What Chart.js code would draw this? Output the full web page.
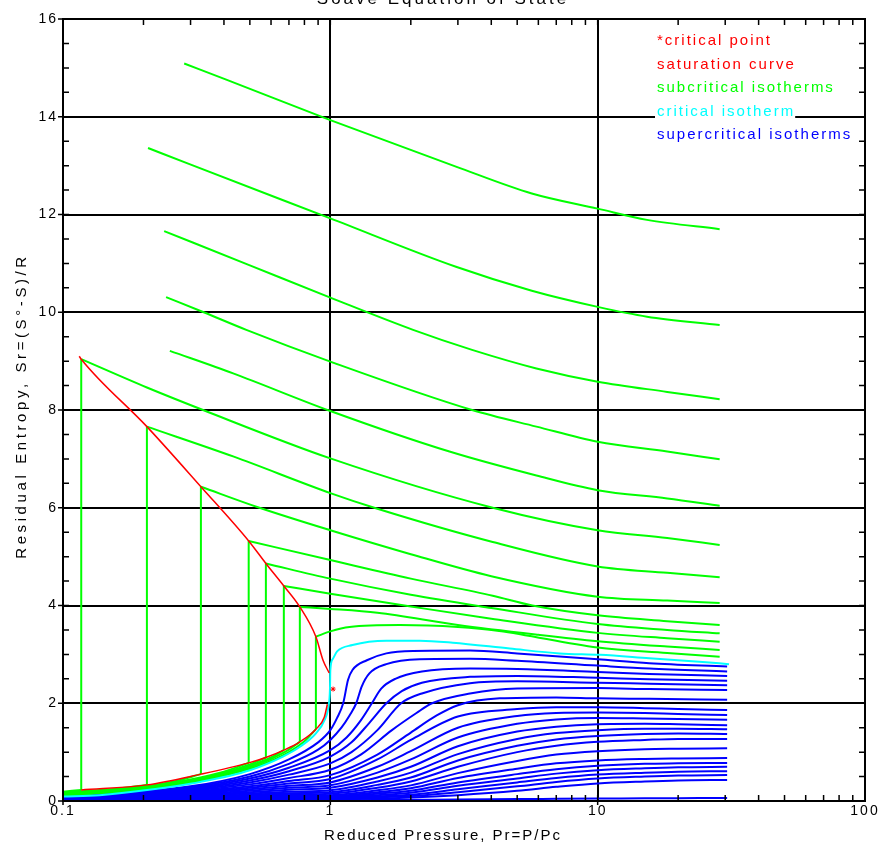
<!DOCTYPE html>
<html>
<head>
<meta charset="utf-8">
<title>Soave Equation of State</title>
<script src="https://cdn.jsdelivr.net/npm/chart.js@4.4.1/dist/chart.umd.min.js"></script>
<style>
  html, body { margin: 0; padding: 0; background: #ffffff; }
  canvas { display: block; }
</style>
</head>
<body>
<canvas id="chart" width="881" height="846"></canvas>
<script>
// Residual entropy isotherms of the Soave (SRK) equation of state.
// Every curve is a list of [reduced pressure Pr, residual entropy Sr] pairs.

const xTickValues = [0.1, 1, 10, 100];
const yTickStep = 2;
const yMinorStep = 0.5;

const legendLabels = ['*critical point', 'saturation curve', 'subcritical isotherms', 'critical isotherm', 'supercritical isotherms'];

// Saturation envelope (liquid and vapour sides) and the critical point
const saturationLiquid = [[0.115, 9.10], [0.117, 9.04], [0.206, 7.66], [0.328, 6.43], [0.495, 5.32], [0.574, 4.86], [0.670, 4.40], [0.769, 3.97], [0.883, 3.36], [0.939, 2.88], [0.99, 2.62]];
const saturationVapor = [[0.117, 0.225], [0.206, 0.33], [0.328, 0.55], [0.495, 0.78], [0.574, 0.89], [0.670, 1.04], [0.769, 1.21], [0.883, 1.47], [0.95, 1.72], [0.975, 1.98]];
const criticalPoint = [[1.024, 2.29]];

// Critical isotherm
const criticalIsotherm = [[0.1, 0.09], [0.137, 0.12], [0.21, 0.23], [0.326, 0.39], [0.5, 0.63], [0.665, 0.91], [0.77, 1.11], [0.885, 1.39], [0.95, 1.65], [0.985, 1.95], [0.997, 2.3], [1.0, 2.68], [1.02, 2.9], [1.06, 3.06], [1.21, 3.19], [1.62, 3.28], [2.16, 3.28], [2.87, 3.24], [4.69, 3.12], [7.2, 3.02], [10.2, 2.99], [15.6, 2.92], [24, 2.85], [31, 2.80]];

// Subcritical isotherms: liquid branches (coldest first)
const subLiquid01 = [[0.284, 15.09], [0.408, 14.76], [1, 13.93], [2.95, 12.98], [5.67, 12.43], [10, 12.12], [15.3, 11.89], [28.6, 11.70]];
const subLiquid02 = [[0.208, 13.36], [0.294, 13.04], [1, 11.92], [2.95, 10.93], [5.67, 10.44], [10, 10.11], [15.3, 9.91], [28.6, 9.74]];
const subLiquid03 = [[0.239, 11.66], [0.5, 10.96], [1, 10.30], [2.04, 9.64], [3.39, 9.23], [5.9, 8.85], [10, 8.58], [18.2, 8.37], [28.6, 8.22]];
const subLiquid04 = [[0.243, 10.31], [0.336, 10.0], [0.485, 9.64], [1, 8.99], [3.39, 8.0], [5.9, 7.66], [10, 7.35], [18.2, 7.15], [28.6, 6.99]];
const subLiquid05 = [[0.251, 9.21], [0.433, 8.75], [1, 7.98], [2.79, 7.15], [5.9, 6.66], [10, 6.36], [18.2, 6.19], [28.6, 6.04]];
const subLiquid06 = [[0.117, 9.04], [0.206, 8.46], [0.334, 8.0], [1, 7.01], [4.05, 6.0], [10, 5.54], [18.2, 5.38], [28.6, 5.24]];
const subLiquid07 = [[0.206, 7.66], [0.433, 7.05], [1, 6.30], [1.5, 5.98], [4.05, 5.3], [10, 4.8], [18.2, 4.67], [28.6, 4.58]];
const subLiquid08 = [[0.328, 6.43], [0.543, 6.0], [1, 5.54], [2, 5.05], [4, 4.6], [10, 4.18], [18.2, 4.1], [28.6, 4.05]];
const subLiquid09 = [[0.495, 5.32], [1, 4.93], [2, 4.55], [4.05, 4.2], [5.7, 4.0], [10, 3.8], [18.2, 3.68], [28.6, 3.60]];
const subLiquid10 = [[0.574, 4.86], [1, 4.55], [2, 4.22], [4, 3.95], [10, 3.62], [18.2, 3.5], [28.6, 3.43]];
const subLiquid11 = [[0.670, 4.40], [1, 4.24], [2, 3.98], [4, 3.73], [10, 3.44], [18.2, 3.33], [28.6, 3.26]];
const subLiquid12 = [[0.769, 3.97], [1, 3.93], [1.5, 3.85], [3, 3.6], [6, 3.4], [10, 3.27], [18.2, 3.16], [28.6, 3.09]];
const subLiquid13 = [[0.883, 3.36], [1.0, 3.47], [1.18, 3.56], [1.82, 3.60], [3, 3.56], [4.28, 3.48], [10, 3.14], [18.2, 3.03], [28.6, 2.95]];

// Subcritical isotherms: vapour branches up to the saturation pressure
const subVapor06 = [[0.1, 0.19], [0.117, 0.225]];
const subVapor07 = [[0.1, 0.175], [0.15, 0.24], [0.206, 0.33]];
const subVapor08 = [[0.1, 0.16], [0.15, 0.225], [0.2, 0.30], [0.26, 0.40], [0.328, 0.55]];
const subVapor09 = [[0.1, 0.15], [0.2, 0.285], [0.3, 0.44], [0.4, 0.6], [0.495, 0.78]];
const subVapor10 = [[0.1, 0.14], [0.2, 0.27], [0.3, 0.42], [0.4, 0.58], [0.5, 0.75], [0.574, 0.89]];
const subVapor11 = [[0.1, 0.13], [0.2, 0.26], [0.3, 0.40], [0.4, 0.56], [0.5, 0.72], [0.6, 0.89], [0.670, 1.04]];
const subVapor12 = [[0.1, 0.12], [0.2, 0.245], [0.3, 0.385], [0.4, 0.54], [0.5, 0.69], [0.6, 0.86], [0.7, 1.05], [0.769, 1.21]];
const subVapor13 = [[0.1, 0.11], [0.2, 0.23], [0.3, 0.37], [0.4, 0.52], [0.5, 0.66], [0.6, 0.82], [0.7, 1.0], [0.8, 1.22], [0.883, 1.47]];

// Supercritical isotherms just above the critical temperature
const super01 = [[0.1, 0.085], [0.3, 0.30], [0.5, 0.55], [0.7, 0.85], [0.9, 1.2], [1.0, 1.45], [1.06, 1.7], [1.117, 2.0], [1.165, 2.48], [1.21, 2.68], [1.37, 2.88], [1.62, 3.02], [2.04, 3.07], [3.33, 3.08], [5, 3.02], [10, 2.9], [15.6, 2.82], [30.5, 2.75]];
const super02 = [[0.1, 0.08], [0.3, 0.28], [0.5, 0.50], [0.7, 0.76], [0.9, 1.05], [1.0, 1.25], [1.1, 1.5], [1.18, 1.75], [1.25, 2.0], [1.31, 2.34], [1.40, 2.61], [1.62, 2.80], [2.16, 2.90], [3.33, 2.91], [5, 2.87], [10, 2.77], [15.6, 2.71], [30.5, 2.65]];
const super03 = [[0.1, 0.075], [0.3, 0.26], [0.5, 0.46], [0.7, 0.68], [1.0, 1.04], [1.15, 1.3], [1.3, 1.65], [1.43, 2.0], [1.55, 2.3], [1.75, 2.5], [2.2, 2.65], [3.33, 2.71], [5, 2.70], [10, 2.64], [15.6, 2.60], [30.5, 2.56]];
const super04 = [[0.1, 0.07], [0.3, 0.245], [0.5, 0.42], [0.7, 0.61], [1.0, 0.91], [1.2, 1.2], [1.4, 1.6], [1.62, 2.0], [1.85, 2.25], [2.2, 2.42], [3.33, 2.54], [5, 2.56], [10, 2.52], [15.6, 2.49], [30.5, 2.46]];
const super05 = [[0.1, 0.065], [0.3, 0.23], [0.5, 0.38], [0.7, 0.54], [1.0, 0.77], [1.2, 1.0], [1.5, 1.45], [1.84, 2.0], [2.2, 2.2], [3.33, 2.41], [5, 2.45], [10, 2.42], [15.6, 2.40], [30.5, 2.37]];
const super06 = [[0.1, 0.06], [0.3, 0.21], [0.5, 0.34], [0.7, 0.47], [1.0, 0.64], [1.3, 0.95], [1.7, 1.45], [2.1, 1.8], [2.4, 2.0], [3.33, 2.2], [5, 2.3], [10, 2.31], [15.6, 2.29], [30.5, 2.27]];
const super07 = [[0.1, 0.055], [0.3, 0.19], [0.5, 0.30], [0.7, 0.41], [1.0, 0.53], [1.5, 0.95], [2, 1.4], [2.5, 1.75], [3, 1.96], [4.3, 2.1], [7, 2.12], [10, 2.1], [15.6, 2.09], [30.5, 2.07]];

// Hotter supercritical isotherms, sampled on one common pressure list
const highTrPressures = [0.1, 0.3, 0.5, 0.7, 1, 1.5, 2, 3, 5, 7, 10, 15, 20, 30.5];
const super08 = [0.05, 0.17, 0.27, 0.36, 0.45, 0.85, 1.25, 1.73, 1.88, 1.92, 1.92, 1.90, 1.88, 1.86];
const super09 = [0.045, 0.155, 0.24, 0.31, 0.38, 0.70, 1.02, 1.50, 1.74, 1.80, 1.81, 1.80, 1.78, 1.76];
const super10 = [0.04, 0.14, 0.21, 0.27, 0.32, 0.58, 0.85, 1.30, 1.58, 1.67, 1.70, 1.69, 1.68, 1.66];
const super11 = [0.035, 0.125, 0.18, 0.23, 0.27, 0.48, 0.70, 1.12, 1.42, 1.52, 1.57, 1.58, 1.57, 1.55];
const super12 = [0.03, 0.11, 0.155, 0.19, 0.22, 0.40, 0.58, 0.96, 1.27, 1.39, 1.45, 1.48, 1.48, 1.47];
const super13 = [0.025, 0.095, 0.13, 0.16, 0.18, 0.33, 0.48, 0.83, 1.13, 1.26, 1.33, 1.37, 1.38, 1.37];
const super14 = [0.02, 0.08, 0.11, 0.135, 0.15, 0.27, 0.40, 0.70, 1.00, 1.13, 1.21, 1.25, 1.27, 1.27];
const super15 = [0.018, 0.07, 0.09, 0.11, 0.12, 0.22, 0.32, 0.57, 0.82, 0.95, 1.02, 1.06, 1.07, 1.08];
const super16 = [0.015, 0.06, 0.075, 0.09, 0.10, 0.18, 0.26, 0.47, 0.66, 0.77, 0.83, 0.86, 0.87, 0.88];
const super17 = [0.012, 0.05, 0.062, 0.075, 0.085, 0.15, 0.21, 0.38, 0.55, 0.65, 0.72, 0.76, 0.77, 0.78];
const super18 = [0.01, 0.04, 0.05, 0.06, 0.07, 0.12, 0.17, 0.31, 0.46, 0.56, 0.63, 0.67, 0.69, 0.70];
const super19 = [0.008, 0.03, 0.04, 0.048, 0.055, 0.095, 0.13, 0.24, 0.38, 0.47, 0.54, 0.58, 0.60, 0.61];
const super20 = [0.006, 0.025, 0.03, 0.036, 0.045, 0.075, 0.10, 0.18, 0.30, 0.39, 0.46, 0.50, 0.52, 0.53];
const super21 = [0.004, 0.015, 0.02, 0.024, 0.03, 0.05, 0.07, 0.12, 0.21, 0.29, 0.36, 0.40, 0.42, 0.43];
const super22 = [0.002, 0.008, 0.01, 0.012, 0.015, 0.02, 0.025, 0.03, 0.04, 0.045, 0.05, 0.055, 0.058, 0.06];

const RED = '#ff0000', GREEN = '#00ff00', CYAN = '#00ffff', BLUE = '#0000ff';
const FONT = '"Liberation Sans", Arial, sans-serif';

const toXY = pts => pts.map(([x, y]) => ({ x, y }));
const zipPressures = values => values.map((s, i) => [highTrPressures[i], s]);

function curve(points, color, width, order, smooth = true) {
  return {
    data: toXY(points),
    showLine: true,
    borderColor: color,
    backgroundColor: color,
    borderWidth: width,
    pointRadius: 0,
    fill: false,
    tension: smooth ? 0.4 : 0,
    cubicInterpolationMode: smooth ? 'monotone' : 'default',
    order
  };
}

const datasets = [];

// saturation envelope and critical point (on top)
datasets.push(curve(saturationLiquid, RED, 1.5, 0));
datasets.push(curve(saturationVapor, RED, 1.5, 0));
datasets.push({
  data: toXY(criticalPoint),
  showLine: false,
  pointStyle: 'star',
  pointRadius: 2.5,
  borderColor: RED,
  borderWidth: 1,
  order: 0
});

// critical isotherm
datasets.push(curve(criticalIsotherm, CYAN, 2, 1));

// subcritical isotherms: vapour branch, two-phase tie line, liquid branch
const subcritical = [
  [null, subLiquid01], [null, subLiquid02], [null, subLiquid03], [null, subLiquid04], [null, subLiquid05],
  [subVapor06, subLiquid06], [subVapor07, subLiquid07], [subVapor08, subLiquid08], [subVapor09, subLiquid09],
  [subVapor10, subLiquid10], [subVapor11, subLiquid11], [subVapor12, subLiquid12], [subVapor13, subLiquid13]
];
subcritical.forEach(([vapor, liquid]) => {
  datasets.push(curve(liquid, GREEN, 2, 2));
  if (vapor) {
    datasets.push(curve(vapor, GREEN, 2, 2));
    datasets.push(curve([vapor[vapor.length - 1], liquid[0]], GREEN, 2, 2, false));
  }
});

// supercritical isotherms
[super01, super02, super03, super04, super05, super06, super07].forEach(pts => {
  datasets.push(curve(pts, BLUE, 2, 3));
});
[super08, super09, super10, super11, super12, super13, super14, super15,
 super16, super17, super18, super19, super20, super21, super22].forEach(vals => {
  datasets.push(curve(zipPressures(vals), BLUE, 2, 3));
});

// Frame, inward tick marks, titles and the colour-keyed legend
const chartDecor = {
  id: 'chartDecor',
  beforeDraw(chart) {
    const { ctx, width, height } = chart;
    ctx.save();
    ctx.fillStyle = '#ffffff';
    ctx.fillRect(0, 0, width, height);
    ctx.restore();
    ctx.letterSpacing = '2px';
  },
  afterDraw(chart) {
    const { ctx, chartArea: a, scales } = chart;
    const xs = scales.x, ys = scales.y;
    ctx.save();
    ctx.letterSpacing = '0px';
    ctx.strokeStyle = '#000000';
    ctx.lineWidth = 1.5;
    ctx.beginPath();
    for (let v = ys.min; v <= ys.max + 1e-9; v += yMinorStep) {
      const py = ys.getPixelForValue(v);
      const major = Math.abs(v / yTickStep - Math.round(v / yTickStep)) < 1e-9;
      ctx.moveTo(a.left - (major ? 5 : 0), py);
      ctx.lineTo(a.left + 6, py);
      ctx.moveTo(a.right - 6, py);
      ctx.lineTo(a.right, py);
    }
    for (let i = 0; i < xTickValues.length - 1; i++) {
      for (let m = 1; m < 10; m++) {
        const px = xs.getPixelForValue(xTickValues[i] * m);
        const major = m === 1;
        ctx.moveTo(px, a.bottom + (major ? 4 : 0));
        ctx.lineTo(px, a.bottom - 6);
        ctx.moveTo(px, a.top);
        ctx.lineTo(px, a.top + 6);
      }
    }
    ctx.stroke();
    ctx.lineWidth = 2;
    ctx.strokeRect(a.left, a.top, a.right - a.left, a.bottom - a.top);

    // legend
    ctx.font = '15px ' + FONT;
    ctx.letterSpacing = '2px';
    ctx.textBaseline = 'middle';
    ctx.textAlign = 'left';
    const legendColors = [RED, RED, GREEN, CYAN, BLUE];
    const legendX = a.left + 594;
    legendLabels.forEach((label, i) => {
      const ly = a.top + 22 + i * 23.5;
      const w = ctx.measureText(label).width;
      ctx.fillStyle = '#ffffff';
      ctx.fillRect(legendX - 2, ly - 8, w + 2, 16);
      ctx.fillStyle = legendColors[i];
      ctx.fillText(label, legendX, ly);
    });

    // chart title
    ctx.fillStyle = '#000000';
    ctx.textAlign = 'center';
    ctx.textBaseline = 'alphabetic';
    ctx.font = '17px ' + FONT;
    ctx.letterSpacing = '3px';
    ctx.fillText('Soave Equation of State', 443, 4);

    // x axis title
    ctx.font = '15px ' + FONT;
    ctx.letterSpacing = '2px';
    ctx.textBaseline = 'middle';
    ctx.fillText('Reduced Pressure, Pr=P/Pc', 443, 836);

    // y axis title
    ctx.save();
    ctx.translate(22, 406);
    ctx.rotate(-Math.PI / 2);
    ctx.letterSpacing = '3.6px';
    ctx.fillText('Residual Entropy, Sr=(S\u00b0-S)/R', 0, 0);
    ctx.restore();

    ctx.restore();
  }
};

new Chart(document.getElementById('chart').getContext('2d'), {
  type: 'scatter',
  data: { datasets },
  options: {
    responsive: false,
    animation: false,
    devicePixelRatio: 1,
    layout: { padding: { top: 19, right: 16, left: 0, bottom: 0 } },
    plugins: {
      legend: { display: false },
      tooltip: { enabled: false },
      title: { display: false }
    },
    scales: {
      x: {
        type: 'logarithmic',
        min: 0.1,
        max: 100,
        afterBuildTicks: scale => { scale.ticks = xTickValues.map(v => ({ value: v })); },
        afterFit: scale => { scale.height = 45; },
        border: { display: false },
        grid: { color: '#000000', lineWidth: 2, drawTicks: false },
        ticks: {
          color: '#000000',
          font: { family: FONT, size: 14 },
          padding: 2,
          autoSkip: false,
          maxRotation: 0,
          callback: v => String(v)
        }
      },
      y: {
        type: 'linear',
        min: 0,
        max: 16,
        afterFit: scale => { scale.width = 63; },
        border: { display: false },
        grid: { color: '#000000', lineWidth: 2, drawTicks: false },
        ticks: {
          stepSize: yTickStep,
          color: '#000000',
          font: { family: FONT, size: 14 },
          padding: 5
        }
      }
    }
  },
  plugins: [chartDecor]
});
</script>
</body>
</html>
